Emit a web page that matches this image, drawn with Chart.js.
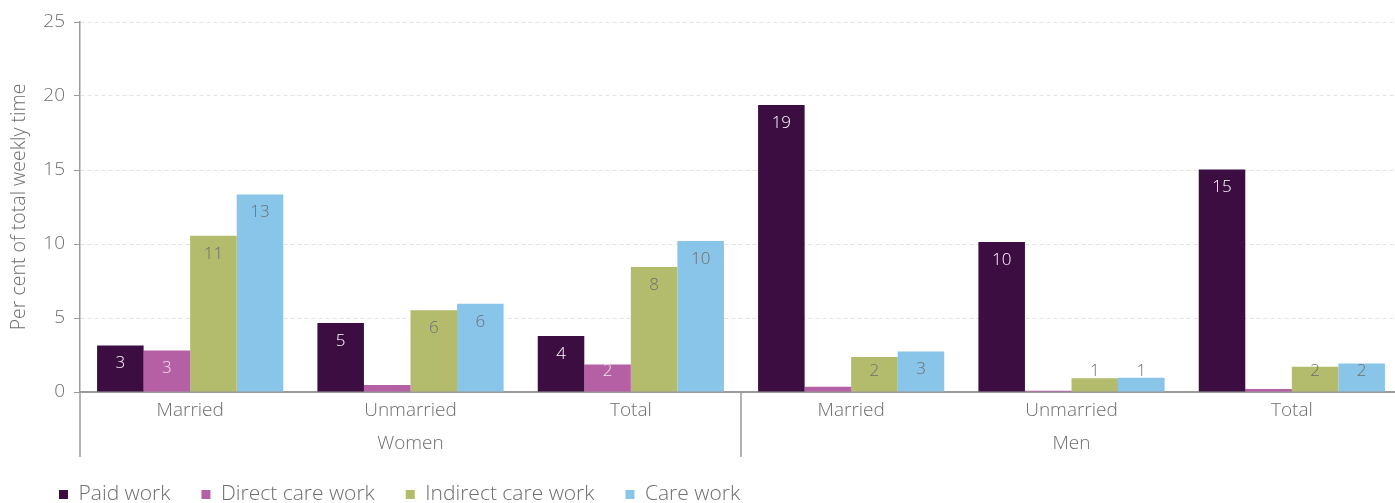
<!DOCTYPE html>
<html>
<head>
<meta charset="utf-8">
<script src="https://cdn.jsdelivr.net/npm/chart.js@4.4.1/dist/chart.umd.min.js"></script>
<style>
html, body { margin: 0; padding: 0; background: #fff; overflow: hidden; }
#wrap { position: relative; width: 1402px; height: 503px; }
</style>
</head>
<body>
<div id="wrap"><canvas id="c"></canvas></div>
<script>
const categories = ['Married', 'Unmarried', 'Total', 'Married', 'Unmarried', 'Total'];
const groups = ['Women', 'Men'];
const groupSizes = [3, 3];
const paidWork = [3.15, 4.67, 3.79, 19.4, 10.14, 15.04];
const directCare = [2.8, 0.47, 1.85, 0.36, 0.08, 0.2];
const indirectCare = [10.55, 5.53, 8.45, 2.37, 0.93, 1.71];
const careWork = [13.35, 5.96, 10.21, 2.73, 0.97, 1.92];
const seriesNames = ['Paid work', 'Direct care work', 'Indirect care work', 'Care work'];
const yTicks = [0, 5, 10, 15, 20, 25];

const FONT = '"Open Sans", Lato, sans-serif';
const W = '300';
const GRAY = '#6e6e6e';
const colors = ['#3b0d40', '#b55fa5', '#b3bb6d', '#89c4e9'];
const labelColors = ['#ffffff', '#f3e3f0', '#6e6e6e', '#6e6e6e'];

const valueLabels = {
  id: 'valueLabels',
  afterDatasetsDraw(chart) {
    const ctx = chart.ctx;
    ctx.save();
    ctx.font = W + ' 17px ' + FONT;
    ctx.textAlign = 'center';
    ctx.textBaseline = 'middle';
    chart.data.datasets.forEach((ds, i) => {
      const meta = chart.getDatasetMeta(i);
      meta.data.forEach((el, j) => {
        const v = Math.round(ds.data[j]);
        if (v === 0) return;
        const y = Math.min(el.y + 18, el.base - 20);
        ctx.fillStyle = labelColors[i];
        ctx.fillText(String(v), el.x, y);
      });
    });
    ctx.restore();
  }
};

const groupAxis = {
  id: 'groupAxis',
  beforeInit(chart) { chart.ctx.letterSpacing = '0.4px'; },
  afterDraw(chart) {
    const x = chart.scales.x;
    const ctx = chart.ctx;
    const area = chart.chartArea;
    const catW = (x.right - x.left) / categories.length;
    ctx.save();
    ctx.strokeStyle = '#9a9a9a';
    ctx.lineWidth = 1.5;
    ctx.font = W + ' 19px ' + FONT;
    ctx.fillStyle = GRAY;
    ctx.textAlign = 'center';
    ctx.textBaseline = 'middle';
    let start = 0;
    groups.forEach((g, gi) => {
      const n = groupSizes[gi];
      const left = x.getPixelForValue(start) - catW / 2;
      const right = x.getPixelForValue(start + n - 1) + catW / 2;
      ctx.beginPath();
      ctx.moveTo(left, area.bottom);
      ctx.lineTo(left, area.bottom + 65);
      ctx.stroke();
      ctx.fillText(g, (left + right) / 2, area.bottom + 52);
      start += n;
    });
    ctx.restore();
  },
  afterLayout(chart) {
    chart.legend.left = 28;
    chart.legend.top += 12;
    chart.legend.bottom += 12;
  }
};

new Chart(document.getElementById('c'), {
  type: 'bar',
  data: {
    labels: categories,
    datasets: [paidWork, directCare, indirectCare, careWork].map((d, i) => ({
      label: seriesNames[i],
      data: d,
      backgroundColor: colors[i],
      borderWidth: 0,
      categoryPercentage: 0.845,
      barPercentage: 1.0
    }))
  },
  options: {
    responsive: true,
    maintainAspectRatio: false,
    animation: false,
    layout: { padding: { top: 22, left: 0, right: 0, bottom: 0 } },
    plugins: {
      tooltip: { enabled: false },
      legend: {
        position: 'bottom',
        align: 'start',
        labels: {
          boxWidth: 9,
          boxHeight: 9,
          padding: 31,
          color: GRAY,
          font: { family: FONT, size: 21, weight: W }
        }
      }
    },
    scales: {
      x: {
        grid: { display: false, drawTicks: false },
        border: { display: true, color: '#9a9a9a', width: 2 },
        ticks: { color: GRAY, padding: 7, font: { family: FONT, size: 19, weight: W } },
        afterFit(s) { s.height = 49; }
      },
      y: {
        min: 0,
        max: 25,
        afterBuildTicks(s) { s.ticks = yTicks.map(v => ({ value: v })); },
        grid: {
          color: '#e3e3e3',
          tickColor: '#9a9a9a',
          tickLength: 6,
          tickBorderDash: [],
          lineWidth: 1
        },
        border: { display: true, color: '#9a9a9a', width: 1.5, dash: [4, 3] },
        ticks: { color: GRAY, padding: 9, font: { family: FONT, size: 19, weight: W } },
        title: {
          display: true,
          text: 'Per cent of total weekly time',
          color: GRAY,
          padding: { top: 8, bottom: 0 },
          font: { family: FONT, size: 19.5, weight: W }
        },
        afterFit(s) { s.width = 80; }
      }
    }
  },
  plugins: [valueLabels, groupAxis]
});
</script>
</body>
</html>
